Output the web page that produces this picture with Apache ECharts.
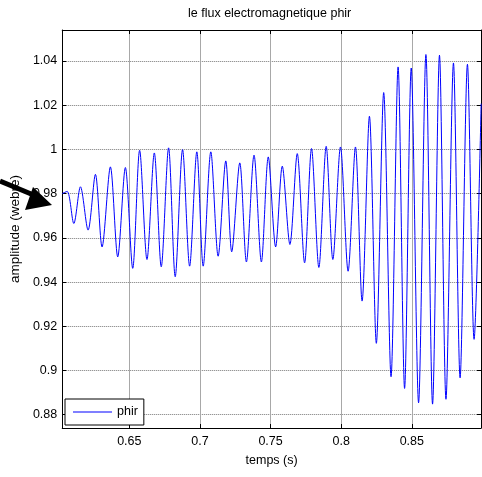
<!DOCTYPE html>
<html>
<head>
<meta charset="utf-8">
<title>le flux electromagnetique phir</title>
<script src="https://cdn.jsdelivr.net/npm/echarts@6/dist/echarts.min.js"></script>
<style>
  html, body { margin: 0; padding: 0; background: #fff; }
  #chart { width: 482px; height: 477px; }
</style>
</head>
<body>
<div id="chart"></div>
<script>
// Rotor flux phir: successive extrema of the oscillation (time in s, flux in Wb)
const timeS = [0.6025, 0.6060, 0.6107, 0.6154, 0.6208, 0.6260, 0.6307, 0.6366, 0.6418, 0.6472,
  0.6524, 0.6573, 0.6625, 0.6677, 0.6726, 0.6778, 0.6825, 0.6877, 0.6927, 0.6978,
  0.7023, 0.7077, 0.7129, 0.7183, 0.7225, 0.7282, 0.7329, 0.7383, 0.7435, 0.7484,
  0.7536, 0.7583, 0.7637, 0.7689, 0.7741, 0.7790, 0.7842, 0.7894, 0.7941, 0.7995,
  0.8049, 0.8101, 0.8148, 0.8200, 0.8249, 0.8301, 0.8353, 0.8403, 0.8449, 0.8496,
  0.8548, 0.8600, 0.8647, 0.8696, 0.8742, 0.8795, 0.8842, 0.8894, 0.8941, 0.8991];
const phir = [0.980, 0.981, 0.9665, 0.9831, 0.9635, 0.9887, 0.9559, 0.9921, 0.9514, 0.9918,
  0.9462, 0.9996, 0.9502, 0.9984, 0.9469, 1.0007, 0.9424, 0.9999, 0.9472, 0.9989,
  0.9472, 0.9989, 0.9517, 0.9948, 0.9537, 0.9939, 0.9491, 0.9974, 0.9491, 0.9966,
  0.9559, 0.9924, 0.9570, 0.9981, 0.9487, 1.0004, 0.9466, 1.0014, 0.9502, 1.0011,
  0.9449, 1.0011, 0.9314, 1.0150, 0.9123, 1.0257, 0.8972, 1.0373, 0.8919, 1.0368,
  0.8854, 1.0429, 0.8848, 1.0426, 0.8870, 1.0391, 0.8967, 1.0385, 0.9141, 1.0207];

const xRange = [0.6025, 0.899];
const yRange = [0.874, 1.054];
const xStep = 0.05;
const yStep = 0.02;

const FONT = "'Liberation Sans', Arial, sans-serif";
const seriesData = timeS.map((t, i) => [t, phir[i]]);

const chart = echarts.init(document.getElementById('chart'), null, { renderer: 'canvas' });

const baseX = {
  type: 'value', min: xRange[0], max: xRange[1],
  minInterval: xStep, maxInterval: xStep, splitNumber: 6,
  axisLine: { show: true, lineStyle: { color: '#000', width: 1 } },
  axisTick: { show: true, inside: true, length: 4, lineStyle: { color: '#000' } }
};
const baseY = {
  type: 'value', min: yRange[0], max: yRange[1],
  minInterval: yStep, maxInterval: yStep, splitNumber: 9,
  axisLine: { show: true, lineStyle: { color: '#000', width: 1 } },
  axisTick: { show: true, inside: true, length: 4, lineStyle: { color: '#000' } }
};

chart.setOption({
  backgroundColor: '#fff',
  animation: false,
  title: {
    text: 'le flux electromagnetique phir',
    left: 188, top: 7, padding: 0,
    textStyle: { fontFamily: FONT, fontSize: 12.5, fontWeight: 'normal', color: '#000' }
  },
  grid: { left: 61, right: 1, top: 30, bottom: 49, show: false },
  legend: {
    data: [{ name: 'phir', icon: 'rect' }],
    left: 65, top: 399,
    orient: 'vertical',
    padding: [6, 6, 6, 8],
    itemWidth: 39, itemHeight: 1, itemGap: 0,
    backgroundColor: '#fff',
    borderColor: '#000', borderWidth: 1,
    textStyle: { fontFamily: FONT, fontSize: 12.5, color: '#000', lineHeight: 14 },
    z: 10
  },
  xAxis: [
    Object.assign({}, baseX, {
      position: 'bottom',
      name: 'temps (s)', nameLocation: 'middle', nameGap: 26,
      nameTextStyle: { fontFamily: FONT, fontSize: 12.5, color: '#000' },
      axisLabel: { show: true, margin: 7, showMinLabel: false, showMaxLabel: false,
        fontFamily: FONT, fontSize: 12.5, color: '#000' },
      splitLine: { show: true, lineStyle: { color: '#a8a8a8', width: 1, type: 'solid' } }
    }),
    Object.assign({}, baseX, {
      position: 'top',
      axisLabel: { show: false },
      splitLine: { show: false }
    })
  ],
  yAxis: [
    Object.assign({}, baseY, {
      position: 'left',
      name: 'amplitude (webre)', nameLocation: 'middle', nameGap: 37, nameRotate: 90,
      nameTextStyle: { fontFamily: FONT, fontSize: 13.5, color: '#000' },
      axisLabel: { show: true, margin: 5, showMinLabel: false, showMaxLabel: false,
        fontFamily: FONT, fontSize: 12.5, color: '#000' },
      splitLine: { show: true, lineStyle: { color: '#777', width: 1, type: [1, 1] } }
    }),
    Object.assign({}, baseY, {
      position: 'right',
      axisLabel: { show: false },
      splitLine: { show: false }
    })
  ],
  series: [{
    name: 'phir',
    type: 'line',
    xAxisIndex: 0, yAxisIndex: 0,
    data: seriesData,
    symbol: 'none',
    smooth: 0.3,
    clip: true,
    lineStyle: { color: '#0000ff', width: 1 },
    itemStyle: { color: '#0000ff' }
  }],
  graphic: [
    // hand-drawn pointer toward the 0.98 level
    { type: 'line', z: 100,
      shape: { x1: 0, y1: 181, x2: 36, y2: 196 },
      style: { stroke: '#000', lineWidth: 5 } },
    { type: 'polygon', z: 100,
      shape: { points: [[33, 187], [52, 205], [25, 210]] },
      style: { fill: '#000' } }
  ]
});
</script>
</body>
</html>
